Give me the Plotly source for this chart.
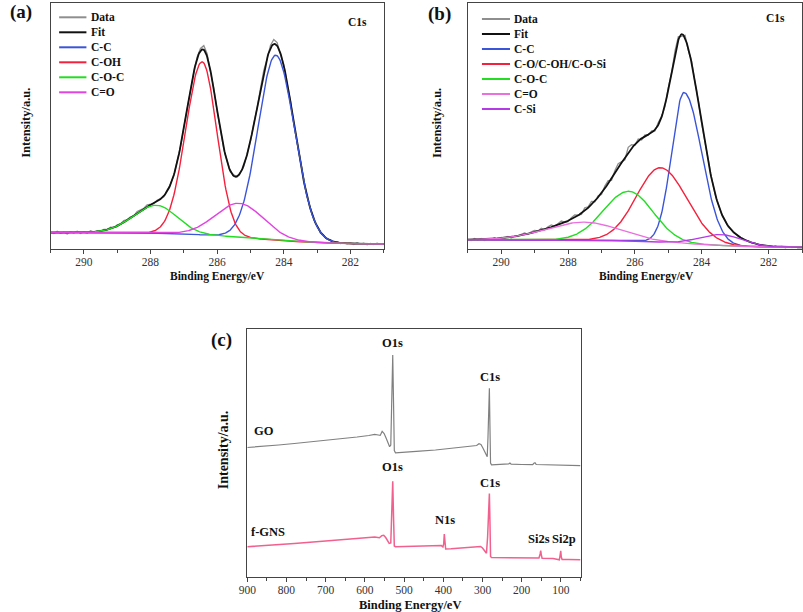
import numpy as np
import plotly.graph_objects as go

# ---------------- data ----------------
# Panel (a): C1s of GO -- fitted components
a_names = ["C-C", "C-OH", "C-O-C", "C=O"]
a_colors = ["#3b55d9", "#f5203c", "#22dd22", "#e244e2"]
a_center = [284.24, 286.45, 287.82, 285.33]     # eV
a_height = [185, 173, 28, 34]                   # a.u.
a_sig_hi = [0.53, 0.49, 0.70, 0.72]             # width on high-BE side (eV)
a_sig_lo = [0.56, 0.44, 0.61, 0.72]             # width on low-BE side (eV)
a_bg = [16.5, 4.6, 284.9, 1.1]                  # high level, low level, step centre, step width
a_resid = [0.5, -1.0, 1.2, -0.8, 0.3, -1.5, 0.9, -0.4, 1.3, -1.1,
           0.6, -0.9, 1.4, -0.3, 0.8, -0.6, 1.1, 0.2, 1.5, -0.2,
           1.2, 0.4, 1.8, 0.6, 1.0, -0.5, 1.6, 0.9, 0.3, 1.9,
           0.7, -0.4, 1.1, 0.2, -0.8, 1.3, 0.5, -0.6, 0.9, -0.3,
           0.4, -1.2, 1.0, -0.5, 1.6, 2.4, 4.2, 3.1, -1.5, 1.2,
           -0.8, 1.4, -1.1, 0.6, -0.9, 1.2, -0.5, 0.8, -1.3, 0.9,
           -0.7, 1.1, -1.4, 0.5, 1.6, -0.9, 2.8, 4.5, 3.2, -1.0,
           1.3, -1.2, 0.8, -1.5, 1.1, -0.7, 0.9, -1.1, 0.6, -0.8,
           0.7, -0.9, 0.5, -0.6, 1.0, -0.4, 0.8, -0.7, 0.4, -0.5,
           0.6, -0.8, 0.9, -0.4, 0.7, -1.0, 0.5, -0.6, 0.8, -0.3,
           0.5]

# Panel (b): C1s of f-GNS -- fitted components
b_names = ["C-C", "C-O/C-OH/C-O-Si", "C-O-C", "C=O", "C-Si"]
b_colors = ["#3b55d9", "#f5203c", "#22dd22", "#ea70de", "#b43ae6"]
b_center = [284.53, 285.23, 286.18, 287.50, 283.41]
b_height = [151, 74.6, 49.7, 18, 11]
b_sig_hi = [0.37, 0.72, 0.76, 1.15, 0.66]
b_sig_lo = [0.53, 0.78, 0.72, 1.05, 0.61]
b_bg = [9.2, 1.5, 284.5, 1.0]
b_resid = [0.4, -0.9, 1.1, -0.6, 0.8, -1.2, 0.5, -0.3, 1.0, -0.8,
           0.7, -0.5, 0.9, -1.0, 0.4, -0.2, 0.8, 1.6, -0.5, 1.2,
           1.8, 0.3, 2.0, -0.6, 1.4, 2.2, -0.3, 1.1, 2.5, 0.2,
           -0.8, 1.5, 2.6, 0.4, -1.2, 2.8, 1.0, 3.2, -0.7, 1.4,
           -1.5, 2.2, 3.0, -1.8, 2.6, 4.4, 1.2, -2.0, 5.5, 3.6,
           -1.0, 2.1, -1.6, 1.3, -0.8, 1.7, -1.2, 2.4, 0.6, -1.5,
           1.8, -1.3, 2.6, 3.5, -2.2, 3.0, -1.8, 2.2, -1.0, 1.2,
           -0.9, 0.7, -1.1, 0.9, -0.6, 0.8, -0.5, 0.6, -0.8, 0.5,
           0.6, -0.7, 0.4, -0.5, 0.8, -0.3, 0.6, -0.6, 0.3, -0.4,
           0.5, -0.6, 0.7, -0.3, 0.5, -0.8, 0.4, -0.5, 0.6, -0.2,
           0.4]

# Panel (c): survey spectra
go_E = [900, 860, 820, 780, 740, 700, 660, 620, 590, 575, 566, 561, 556, 551, 546, 541,
        537, 534, 531.5, 529, 527, 525, 522, 500, 460, 420, 380, 340, 315, 309, 304, 299,
        294, 290, 288, 286, 284, 282.5, 281, 279.5, 277, 260, 240, 233, 230, 227, 200,
        172, 169, 166, 163, 130, 100, 70, 50]
go_I = [129.5, 130.5, 132, 133.5, 135, 136.5, 138.5, 140, 141.5, 142.7, 142, 141.6, 145.6,
        143.5, 139, 133.5, 130.3, 132, 175, 222, 175, 126.5, 124.2, 124.6, 125.8, 127,
        128.5, 130, 131.5, 133.3, 132.5, 129, 124.5, 120.8, 120.3, 140, 175, 188.7, 150,
        114, 112.2, 112.4, 112.6, 113.2, 114, 112.8, 112.5, 112.3, 113.7, 114.2, 112.5,
        112, 111.8, 111.5, 111.3]
fg_E = [900, 860, 820, 780, 740, 700, 660, 620, 590, 575, 568, 563, 557, 552, 547, 542,
        538, 534, 531.5, 529, 527, 525, 522, 500, 460, 420, 412, 405, 401, 399, 397.5, 396,
        394, 380, 350, 320, 310, 305, 300, 296, 292, 290, 287, 285, 282.5, 281, 279.5, 277,
        250, 200, 170, 156, 153, 151.5, 150, 148, 120, 108, 104, 102, 100.5, 99, 97, 80, 50]
fg_I = [30.3, 31.2, 32.3, 33.4, 34.7, 35.8, 37, 38.3, 39.5, 40, 39.6, 39.2, 41.4, 41.7,
        39.5, 36, 33.7, 34, 65, 95.8, 60, 31, 30.3, 30.5, 31, 31.5, 32, 31.4, 30, 33, 43,
        33, 28, 28.3, 29.2, 30.3, 31, 30.6, 29, 26.5, 24.3, 23.7, 40, 65, 83.5, 55, 20.5,
        19.5, 19.4, 19.3, 19.1, 19, 23, 26.3, 22, 18.8, 18.4, 17.5, 17.2, 22, 26.2, 20,
        17.5, 17.4, 17.2]

c_labels = ["O1s", "C1s", "GO", "O1s", "C1s", "N1s", "f-GNS", "Si2s", "Si2p"]
c_lab_E = [529.4, 282, 858.5, 529.4, 282, 396.4, 846.7, 155, 92.5]
c_lab_I = [233.7, 200.3, 146.3, 110.3, 93.7, 57, 45.5, 37.7, 38.3]

# ---------------- helpers ----------------
def background(E, p):
    hi, lo, c, w = p
    return lo + (hi - lo) / (1.0 + np.exp(-(E - c) / w))

def component(E, c, h, s_hi, s_lo):
    s = np.where(E >= c, s_hi, s_lo)
    return h * np.exp(-0.5 * ((E - c) / s) ** 2)

E = np.linspace(291, 281, 501)
E_data = np.round(np.linspace(291, 281, 101), 2)

W, H = 803, 612
def px(x):
    return x / W
def py(y):
    return 1 - y / H

SERIF = "Liberation Serif"
AX = "#444444"
DATA_COL, FIT_COL = "#8e8e8e", "#111111"

fig = go.Figure()

def add_fit_panel(xa, ya, names, colors, center, height, shi, slo, bgp, resid):
    bg = background(E, bgp)
    comps = [component(E, c, h, a, b) for c, h, a, b in zip(center, height, shi, slo)]
    fit = bg + np.sum(comps, axis=0)
    bg_d = background(E_data, bgp)
    fit_d = bg_d + np.sum([component(E_data, c, h, a, b)
                           for c, h, a, b in zip(center, height, shi, slo)], axis=0)
    data = fit_d + np.array(resid)
    fig.add_trace(go.Scatter(x=E_data, y=data, mode="lines", name="Data",
                             line=dict(color=DATA_COL, width=1.3),
                             xaxis=xa, yaxis=ya, showlegend=False))
    fig.add_trace(go.Scatter(x=E, y=fit, mode="lines", name="Fit",
                             line=dict(color=FIT_COL, width=1.8),
                             xaxis=xa, yaxis=ya, showlegend=False))
    for n, col, comp in zip(names, colors, comps):
        fig.add_trace(go.Scatter(x=E, y=bg + comp, mode="lines", name=n,
                                 line=dict(color=col, width=1.4),
                                 xaxis=xa, yaxis=ya, showlegend=False))

add_fit_panel("x", "y", a_names, a_colors, a_center, a_height,
              a_sig_hi, a_sig_lo, a_bg, a_resid)
add_fit_panel("x2", "y2", b_names, b_colors, b_center, b_height,
              b_sig_hi, b_sig_lo, b_bg, b_resid)

fig.add_trace(go.Scatter(x=go_E, y=go_I, mode="lines", name="GO",
                         line=dict(color="#808080", width=1.2),
                         xaxis="x3", yaxis="y3", showlegend=False))
fig.add_trace(go.Scatter(x=fg_E, y=fg_I, mode="lines", name="f-GNS",
                         line=dict(color="#f2608f", width=1.5),
                         xaxis="x3", yaxis="y3", showlegend=False))

tickfont_ab = dict(family=SERIF, size=11.5, color="#333333")
tickfont_c = dict(family=SERIF, size=11.5, color="#333333")

def xax(domain, anchor, rng, dtick, minor, tickfont):
    return dict(domain=domain, anchor=anchor, range=rng, tick0=0, dtick=dtick,
                ticks="outside", ticklen=4, tickcolor=AX, tickwidth=1,
                ticklabelstandoff=-2,
                minor=dict(dtick=minor, ticks="outside", ticklen=3, tickcolor=AX),
                showline=True, linecolor=AX, linewidth=1, mirror=True,
                showgrid=False, zeroline=False, tickfont=tickfont)

def yax(domain, anchor, rng):
    return dict(domain=domain, anchor=anchor, range=rng, showticklabels=False,
                ticks="", showline=True, linecolor=AX, linewidth=1, mirror=True,
                showgrid=False, zeroline=False)

ab_y = [py(249), py(3)]

fig.update_layout(
    width=W, height=H, margin=dict(l=0, r=0, t=0, b=0),
    paper_bgcolor="white", plot_bgcolor="white",
    xaxis=xax([px(42), px(379)], "y", [291, 281], 2, 1, tickfont_ab),
    yaxis=yax(ab_y, "x", [0, 246]),
    xaxis2=xax([px(464), px(802)], "y2", [291, 281], 2, 1, tickfont_ab),
    yaxis2=yax(ab_y, "x2", [0, 246]),
    xaxis3=xax([px(241), px(578)], "y3", [900, 50], 100, 50, tickfont_c),
    yaxis3=yax([py(577), py(329)], "x3", [0, 248]),
    showlegend=False,
)

def ann(text, x, y, size, angle=0, bold=True, xref="paper", yref="paper", xanchor="center"):
    fig.add_annotation(text=text, x=x, y=y, xref=xref, yref=yref, showarrow=False,
                       textangle=angle, xanchor=xanchor, yanchor="middle",
                       font=dict(family=SERIF, size=size, color="#111111",
                                 weight="bold" if bold else "normal"))

# legends (sample line + label) drawn in the upper-left of panels (a) and (b)
def legend_box(x0, x1, xt, y0, dy, names, colors):
    for i, (n, col) in enumerate(zip(names, colors)):
        yy = py(y0 + i * dy)
        fig.add_shape(type="line", xref="paper", yref="paper", x0=px(x0), x1=px(x1),
                      y0=yy, y1=yy, line=dict(color=col, width=2))
        ann(n, px(xt), yy, 11.5, xanchor="left")

legend_box(50.7, 78.3, 80.5, 17.3, 15.0, ["Data", "Fit"] + a_names,
           [DATA_COL, FIT_COL] + a_colors)
legend_box(478.3, 506.7, 508.3, 19.0, 15.0, ["Data", "Fit"] + b_names,
           [DATA_COL, FIT_COL] + b_colors)

# axis titles and panel labels
ann("Binding Energy/eV", px(210.5), py(277), 11.5)
ann("Binding Energy/eV", px(644.5), py(276.7), 11.5)
ann("Binding Energy/eV", px(405.3), py(604.5), 12.5)
ann("Intensity/a.u.", px(17), py(123), 12.5, angle=-90)
ann("Intensity/a.u.", px(433.3), py(122.5), 12.5, angle=-90)
ann("Intensity/a.u.", px(216.7), py(450), 14, angle=-90)
ann("(a)", px(12.5), py(12), 19)
ann("(b)", px(435.5), py(13.8), 19)
ann("(c)", px(215.3), py(340.3), 19)
ann("C1s", px(352.5), py(21.7), 11.5)
ann("C1s", px(775), py(18.3), 11.5)

for t, e, i in zip(c_labels, c_lab_E, c_lab_I):
    ann(t, e, i, 12.5, xref="x3", yref="y3")

fig.write_html("out.html", config={"displayModeBar": False},
               post_script="document.body.style.margin='0px';document.body.style.overflow='hidden';")
